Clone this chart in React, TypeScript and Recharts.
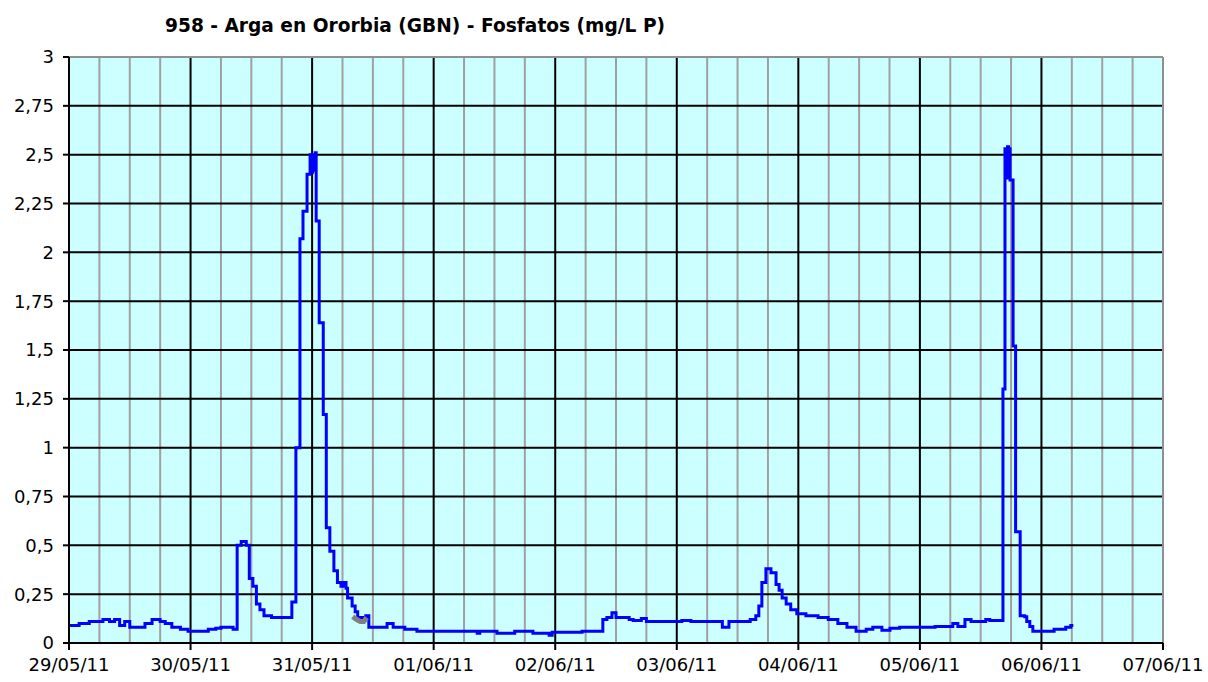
import React from "react";
import {
  LineChart,
  Line,
  XAxis,
  YAxis,
  CartesianGrid,
  ReferenceLine,
} from "recharts";

const titulo = "958 - Arga en Ororbia (GBN) - Fosfatos (mg/L P)";

// etiquetas del eje X, una por día (horas 0, 24, 48...)
const dias = [
  "29/05/11",
  "30/05/11",
  "31/05/11",
  "01/06/11",
  "02/06/11",
  "03/06/11",
  "04/06/11",
  "05/06/11",
  "06/06/11",
  "07/06/11",
];

const ticksY = [0, 0.25, 0.5, 0.75, 1, 1.25, 1.5, 1.75, 2, 2.25, 2.5, 2.75, 3];

// [horas desde 29/05 00:00, mg/L P]
const fosfatos: [number, number][] = [
  [0, 0.09], [2, 0.1], [4, 0.11], [6.7, 0.12], [8, 0.11], [9, 0.12],
  [10, 0.09], [11, 0.11], [12, 0.08], [15, 0.1], [16.4, 0.12], [18, 0.11],
  [19, 0.1], [20.3, 0.08], [22, 0.07], [23.5, 0.06], [27.5, 0.07], [29, 0.075],
  [30, 0.08], [32.4, 0.07], [33.2, 0.5], [34, 0.52], [35, 0.5], [35.6, 0.33],
  [36.3, 0.29], [37, 0.2], [37.7, 0.17], [38.5, 0.14], [40, 0.13], [44, 0.21],
  [44.8, 1.0], [45.6, 2.07], [46.2, 2.21], [47, 2.4], [47.6, 2.5], [47.9, 2.41],
  [48.1, 2.5], [48.4, 2.42], [48.6, 2.51], [48.8, 2.16], [49.4, 1.64], [50.2, 1.17],
  [50.8, 0.59], [51.5, 0.47], [52.3, 0.37], [53, 0.31], [53.7, 0.29], [54.3, 0.31],
  [54.7, 0.28], [55, 0.23], [55.9, 0.19], [56.5, 0.16], [57, 0.13], [58, 0.12],
  [58.6, 0.14], [59.2, 0.08], [62.8, 0.1], [64, 0.08], [66.3, 0.07], [68.7, 0.06],
  [80.6, 0.05], [81.1, 0.06], [84.5, 0.05], [88, 0.06], [91.6, 0.05], [94.8, 0.04],
  [95.4, 0.055], [101.3, 0.06], [105.4, 0.12], [106.2, 0.13], [107.2, 0.155], [108, 0.13],
  [110.6, 0.12], [111.4, 0.115], [113, 0.125], [114, 0.11], [121, 0.115], [122.8, 0.11],
  [129, 0.08], [130.3, 0.11], [134.5, 0.12], [135.6, 0.14], [136.2, 0.19], [136.8, 0.31],
  [137.6, 0.38], [138.6, 0.36], [139.6, 0.3], [140.2, 0.27], [140.8, 0.23], [141.6, 0.2],
  [142.5, 0.17], [143.7, 0.15], [145.5, 0.14], [147.9, 0.13], [149.9, 0.12], [151.8, 0.1],
  [153.6, 0.08], [155.4, 0.06], [157.4, 0.07], [158.7, 0.08], [160.5, 0.065], [162.1, 0.075],
  [164, 0.08], [171, 0.085], [174.5, 0.1], [175.5, 0.085], [176.9, 0.12], [178.1, 0.11],
  [181, 0.12], [181.8, 0.115], [184.4, 1.3], [184.8, 2.53], [185.1, 2.38], [185.3, 2.54],
  [185.5, 2.4], [185.6, 2.53], [185.8, 2.37], [186.4, 1.52], [186.9, 0.57], [187.8, 0.14],
  [188.7, 0.135], [189.1, 0.11], [189.7, 0.085], [190.3, 0.06], [194.5, 0.07], [196.8, 0.08],
  [197.8, 0.09], [198.3, 0.09],
];

// tramo dibujado en gris (dato dudoso)
const fosfatosGris: [number, number][] = [
  [56.0, 0.135], [56.8, 0.12], [57.5, 0.11], [58.2, 0.11], [58.8, 0.13],
];

const datos = fosfatos.map(([h, v]) => ({ h, v }));
const datosGris = fosfatosGris.map(([h, v]) => ({ h, v }));

const horasDia = dias.map((_, i) => i * 24);
const horaFin = horasDia[horasDia.length - 1];
const horasMenores: number[] = [];
for (let h = 6; h < horaFin; h += 6) {
  if (h % 24 !== 0) horasMenores.push(h);
}

const fuente = "'DejaVu Sans', Verdana, sans-serif";

const App: React.FC = () => {
  return (
    <div
      style={{
        position: "absolute",
        left: 0,
        top: 0,
        width: 1208,
        height: 682,
        background: "#fff",
        fontFamily: fuente,
      }}
    >
      <div
        style={{
          position: "absolute",
          left: 165,
          top: 15,
          fontSize: 18.6,
          lineHeight: "21px",
          fontWeight: "bold",
          color: "#000",
          whiteSpace: "nowrap",
        }}
      >
        {titulo}
      </div>
      <LineChart
        width={1208}
        height={682}
        margin={{ top: 57, right: 45, bottom: 0, left: 0 }}
      >
        <CartesianGrid fill="#CCFFFF" horizontal={false} vertical={false} />
        {horasMenores.map((h) => (
          <ReferenceLine key={"m" + h} x={h} stroke="#A0A0A0" strokeWidth={2} />
        ))}
        {ticksY.slice(1, -1).map((v) => (
          <ReferenceLine key={"y" + v} y={v} stroke="#000" strokeWidth={2} />
        ))}
        {horasDia.slice(1, -1).map((h) => (
          <ReferenceLine key={"d" + h} x={h} stroke="#000" strokeWidth={2} />
        ))}
        <ReferenceLine y={3} stroke="#909090" strokeWidth={2} />
        <ReferenceLine x={horaFin} stroke="#909090" strokeWidth={2} />
        <XAxis
          type="number"
          dataKey="h"
          domain={[0, horaFin]}
          ticks={horasDia}
          interval={0}
          allowDataOverflow
          tickFormatter={(h: number) => dias[Math.round(h / 24)]}
          height={39}
          tickSize={7}
          tickMargin={8}
          axisLine={{ stroke: "#000", strokeWidth: 2 }}
          tickLine={{ stroke: "#000", strokeWidth: 2 }}
          tick={{ fill: "#000", fontSize: 18, fontFamily: fuente }}
        />
        <YAxis
          type="number"
          domain={[0, 3]}
          ticks={ticksY}
          interval={0}
          allowDataOverflow
          width={69}
          tickSize={6}
          tickMargin={9}
          tickFormatter={(v: number) => String(v).replace(".", ",")}
          axisLine={{ stroke: "#000", strokeWidth: 2 }}
          tickLine={{ stroke: "#000", strokeWidth: 2 }}
          tick={{ fill: "#000", fontSize: 18, fontFamily: fuente }}
        />
        <Line
          data={datos}
          dataKey="v"
          type="stepAfter"
          stroke="#0000FF"
          strokeWidth={3}
          dot={false}
          activeDot={false}
          isAnimationActive={false}
        />
        <Line
          data={datosGris}
          dataKey="v"
          type="linear"
          stroke="#808080"
          strokeWidth={5}
          dot={false}
          activeDot={false}
          isAnimationActive={false}
        />
      </LineChart>
    </div>
  );
};

export default App;
